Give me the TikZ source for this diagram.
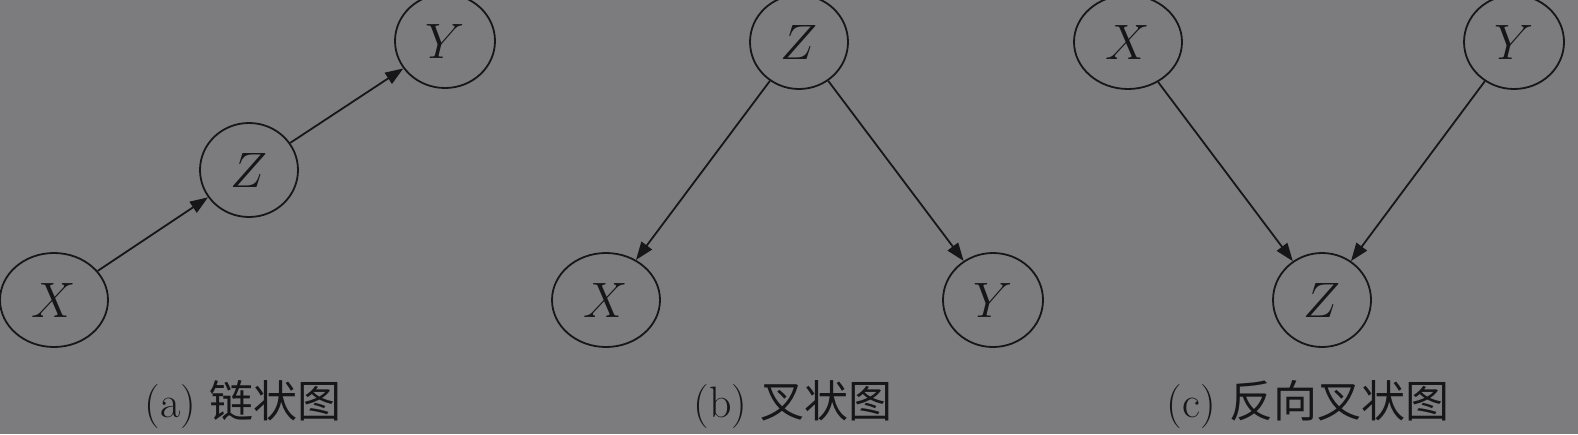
\documentclass[tikz,border=0pt]{standalone}
\usepackage{fontspec}
\newfontfamily\cjk{Noto Sans CJK SC}
\usetikzlibrary{shapes.geometric,arrows.meta}
\definecolor{bg}{RGB}{124,124,126}
\definecolor{ink}{RGB}{22,22,22}
\tikzset{
  var/.style={ellipse,draw=ink,line width=0.9pt,inner sep=0pt,minimum height=47pt,text=ink,font=\fontsize{24}{28}\selectfont},
  wX/.style={minimum width=54pt},
  wY/.style={minimum width=50pt},
  wZ/.style={minimum width=49pt},
  edge/.style={draw=ink,line width=0.9pt,-{Triangle[length=9pt,width=6.5pt]}},
  captext/.style={text=ink,font=\fontsize{22}{26}\selectfont},
}
\begin{document}
\begin{tikzpicture}[x=0.5pt,y=-0.5pt]
\fill[bg] (0,0) rectangle (1578,434);
\useasboundingbox (0,0) rectangle (1578,434);
% (a)
\node[var,wX] (aX) at (54,300) {$X$};
\node[var,wZ] (aZ) at (249,170) {$Z$};
\node[var,wY] (aY) at (445,41) {$Y$};
\draw[edge] (aX) -- (aZ);
\draw[edge] (aZ) -- (aY);
\node[captext] (capa) at (243,404) {(a) {\cjk 链状图}};
% (b)
\node[var,wZ] (bZ) at (799,42) {$Z$};
\node[var,wX] (bX) at (606,300) {$X$};
\node[var,wY] (bY) at (993,300) {$Y$};
\draw[edge] (bZ) -- (bX);
\draw[edge] (bZ) -- (bY);
\node[captext] (capb) at (793,404) {(b) {\cjk 叉状图}};
% (c)
\node[var,wX] (cX) at (1128,42) {$X$};
\node[var,wY] (cY) at (1514,42) {$Y$};
\node[var,wZ] (cZ) at (1322,300) {$Z$};
\draw[edge] (cX) -- (cZ);
\draw[edge] (cY) -- (cZ);
\node[captext] (capc) at (1308,404) {(c) {\cjk 反向叉状图}};
\end{tikzpicture}
\end{document}
